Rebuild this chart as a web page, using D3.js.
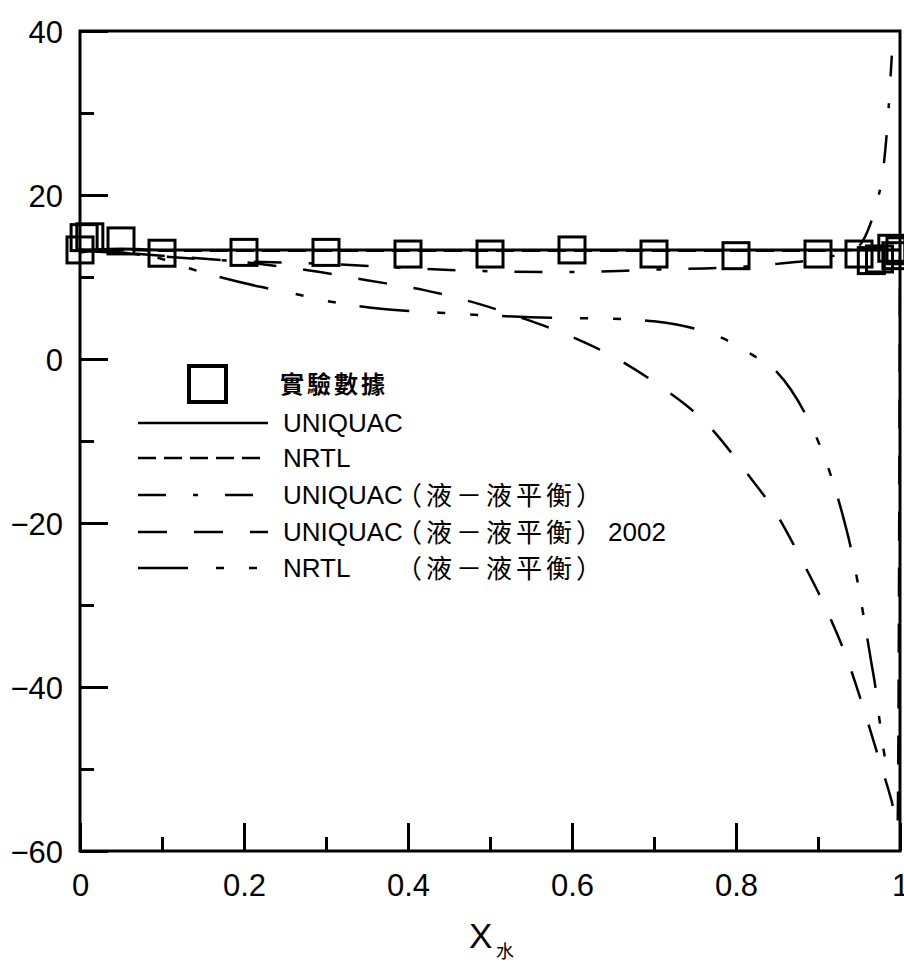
<!DOCTYPE html>
<html>
<head>
<meta charset="utf-8">
<script src="https://cdn.jsdelivr.net/npm/d3@7/dist/d3.min.js"></script>
<style>
  body { margin: 0; background: #fff; }
  svg { display: block; }
  text { font-family: "Liberation Sans", Arial, sans-serif; fill: #000; }
  .cjk { font-family: "Noto Sans CJK TC", "Noto Sans CJK SC", sans-serif; }
</style>
</head>
<body>
<svg id="chart"></svg>
<script>
// experimental data (squares)
const expX = [0, 0.005, 0.012, 0.05, 0.1, 0.2, 0.3, 0.4, 0.5, 0.6, 0.7, 0.8, 0.9, 0.95, 0.965, 0.975, 0.99, 0.995, 1.0];
const expY = [13.3, 14.8, 14.9, 14.4, 12.9, 13.0, 13.0, 12.8, 12.8, 13.3, 12.8, 12.6, 12.8, 12.8, 12.0, 12.2, 13.5, 12.6, 13.2];

// UNIQUAC (solid)
const uniX = [0, 0.02, 0.05, 0.1, 0.2, 0.4, 0.6, 0.8, 0.9, 0.95, 1.0];
const uniY = [13.0, 13.3, 13.4, 13.3, 13.3, 13.3, 13.3, 13.3, 13.3, 13.3, 13.3];

// NRTL (short dashes) - lies under the UNIQUAC line
const nrtlX = [0, 0.05, 0.1, 0.3, 0.5, 0.7, 0.9, 0.95, 1.0];
const nrtlY = [13.2, 13.3, 13.2, 13.2, 13.2, 13.2, 13.2, 13.3, 13.3];

// UNIQUAC (liquid-liquid), dash-dot
const ullX = [0, 0.05, 0.1, 0.2, 0.3, 0.4, 0.5, 0.6, 0.7, 0.8, 0.85, 0.9, 0.93, 0.95, 0.96, 0.97, 0.98, 0.985, 0.99];
const ullY = [13.2, 12.9, 12.5, 11.9, 11.6, 11.1, 10.7, 10.6, 10.9, 11.2, 11.6, 12.2, 12.9, 13.8, 15.5, 18.5, 23.5, 29.0, 37.0];

// UNIQUAC (liquid-liquid) 2002, long dashes
const u02X = [0, 0.1, 0.2, 0.28, 0.35, 0.42, 0.48, 0.545, 0.6, 0.65, 0.7, 0.77, 0.81, 0.85, 0.88, 0.91, 0.937, 0.958, 0.975, 0.99, 0.997, 1.0];
const u02Y = [13.3, 12.6, 11.8, 10.8, 9.6, 8.4, 6.9, 4.8, 2.7, 0.3, -2.8, -8.5, -13.5, -19.0, -24.5, -30.5, -37.0, -43.4, -49.0, -54.0, -57.0, 12.5];

// NRTL (liquid-liquid), long dash + two dots
const nllX = [0, 0.05, 0.1, 0.135, 0.17, 0.22, 0.26, 0.3, 0.37, 0.43, 0.5, 0.55, 0.6, 0.65, 0.7, 0.75, 0.78, 0.82, 0.85, 0.884, 0.9, 0.915, 0.93, 0.94, 0.948, 0.955, 0.965, 0.97, 0.975, 0.985, 0.99];
const nllY = [13.3, 13.0, 12.2, 11.0, 10.0, 8.8, 8.0, 7.1, 6.1, 5.7, 5.3, 5.1, 5.0, 4.9, 4.6, 3.7, 2.7, 0.5, -1.6, -6.6, -10.0, -14.0, -19.0, -23.0, -27.0, -31.0, -37.0, -40.0, -44.0, -49.5, -48.5];

const yTicks = [-60, -40, -20, 0, 20, 40];
const xTicks = [0, 0.2, 0.4, 0.6, 0.8, 1];
const xTickLabels = ["0", "0.2", "0.4", "0.6", "0.8", "1"];

const width = 904, height = 963;
const svg = d3.select("#chart").attr("width", width).attr("height", height);

const x = d3.scaleLinear().domain([0, 1]).range([80, 900]);
const y = d3.scaleLinear().domain([-60, 40]).range([851, 31]);

svg.append("clipPath").attr("id", "plot")
  .append("rect").attr("x", 80).attr("y", 31).attr("width", 820).attr("height", 820);

// curves
const line = d3.line().x(d => x(d[0])).y(d => y(d[1])).curve(d3.curveMonotoneX);
const series = [
  { xs: nrtlX, ys: nrtlY, dash: "18,8", w: 2.5 },
  { xs: ullX, ys: ullY, dash: "28,27,5,27", w: 2.5 },
  { xs: u02X, ys: u02Y, dash: "29,27", w: 2.5 },
  { xs: nllX, ys: nllY, dash: "50,28,8,25,8,24", w: 2.5 },
  { xs: uniX, ys: uniY, dash: null, w: 3 }
];
const curves = svg.append("g").attr("clip-path", "url(#plot)");
series.forEach(s => {
  curves.append("path")
    .datum(s.xs.map((v, i) => [v, s.ys[i]]))
    .attr("fill", "none")
    .attr("stroke", "#000")
    .attr("stroke-width", s.w)
    .attr("stroke-dasharray", s.dash)
    .attr("d", line);
});

// experimental squares
const sq = 26;
svg.append("g").selectAll("rect")
  .data(expX.map((v, i) => [v, expY[i]]))
  .join("rect")
  .attr("x", d => x(d[0]) - sq / 2)
  .attr("y", d => y(d[1]) - sq / 2)
  .attr("width", sq).attr("height", sq)
  .attr("fill", "none").attr("stroke", "#000").attr("stroke-width", 3);

// frame
svg.append("rect").attr("x", 80).attr("y", 31).attr("width", 820).attr("height", 820)
  .attr("fill", "none").attr("stroke", "#000").attr("stroke-width", 3);

// axes with inward ticks
const yAxis = d3.axisLeft(y).tickValues(yTicks).tickSize(-28).tickPadding(17).tickFormat(d3.format("d"));
const yMinor = d3.axisLeft(y).tickValues(d3.range(-50, 40, 20)).tickSize(-14).tickFormat("");
const xAxis = d3.axisBottom(x).tickValues(xTicks).tickSize(-28).tickPadding(23)
  .tickFormat((d, i) => xTickLabels[i]);
const xMinor = d3.axisBottom(x).tickValues(d3.range(0.1, 1, 0.2)).tickSize(-14).tickFormat("");

function styleAxis(g) {
  g.select(".domain").remove();
  g.selectAll(".tick line").attr("stroke", "#000").attr("stroke-width", 3);
  g.selectAll(".tick text").attr("font-size", 31).attr("font-family", "Liberation Sans, Arial, sans-serif").attr("fill", "#000");
}
svg.append("g").attr("transform", "translate(80,0)").call(yAxis).call(styleAxis)
  .selectAll(".tick text").attr("dy", "0.36em");
svg.append("g").attr("transform", "translate(80,0)").call(yMinor).call(styleAxis);
svg.append("g").attr("transform", "translate(0,851)").call(xAxis).call(styleAxis);
svg.append("g").attr("transform", "translate(0,851)").call(xMinor).call(styleAxis);

// x axis title
svg.append("text").attr("x", 469).attr("y", 948).attr("font-size", 35).text("X");
svg.append("text").attr("class", "cjk").attr("x", 496).attr("y", 958).attr("font-size", 18).text("水");

// legend
const legLines = [
  { dash: null, y: 423 },
  { dash: "18,8", y: 458 },
  { dash: "28,27,5,27", y: 495 },
  { dash: "29,27", y: 532 },
  { dash: "50,28,8,25,8,24", y: 568 }
];
const leg = svg.append("g");
leg.append("rect").attr("x", 189).attr("y", 366).attr("width", 37).attr("height", 36)
  .attr("fill", "none").attr("stroke", "#000").attr("stroke-width", 4);
leg.append("text").attr("class", "cjk").attr("x", 280).attr("y", 393)
  .attr("font-size", 24).attr("font-weight", 700).attr("letter-spacing", 3).text("實驗數據");
legLines.forEach(l => {
  leg.append("line").attr("x1", 138).attr("x2", 268).attr("y1", l.y).attr("y2", l.y)
    .attr("stroke", "#000").attr("stroke-width", 2.5).attr("stroke-dasharray", l.dash);
});
const legText = (txt, yy) => leg.append("text").attr("x", 283).attr("y", yy + 9)
  .attr("font-size", 26).attr("fill", "#222").text(txt);
const legCjk = (yy) => leg.append("text").attr("class", "cjk").attr("x", 396).attr("y", yy + 10)
  .attr("font-size", 26).attr("letter-spacing", 4).text("（液－液平衡）");
legText("UNIQUAC", 423);
legText("NRTL", 458);
legText("UNIQUAC", 495); legCjk(495);
legText("UNIQUAC", 532); legCjk(532);
leg.append("text").attr("x", 608).attr("y", 541).attr("font-size", 26).attr("fill", "#222").text("2002");
legText("NRTL", 568); legCjk(568);
</script>
</body>
</html>
